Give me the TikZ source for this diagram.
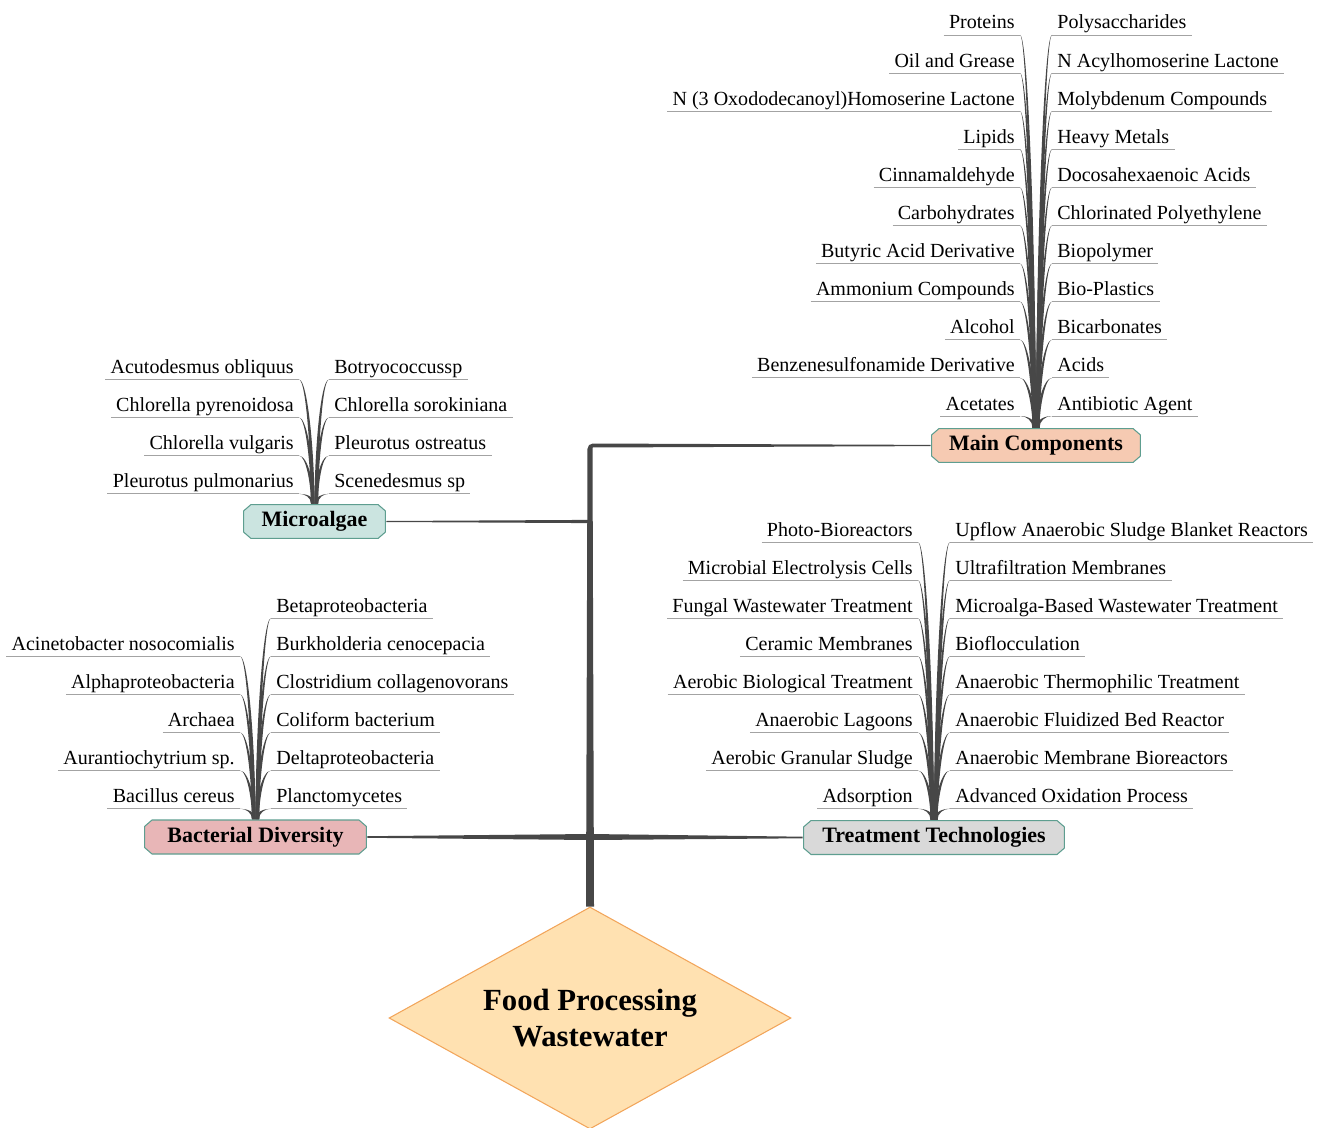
\documentclass[tikz,border=0pt]{standalone}
\usepackage{fontspec}
\setmainfont{Liberation Serif}
\usepackage{tikz}
\usetikzlibrary{shapes.geometric,calc}
\definecolor{rootfill}{HTML}{FFE1B1}
\definecolor{rootline}{HTML}{F2A55A}
\definecolor{edgeteal}{HTML}{5E9E90}
\definecolor{mcfill}{HTML}{F6CAB2}
\definecolor{mafill}{HTML}{CBE4E0}
\definecolor{bdfill}{HTML}{E8B6B7}
\definecolor{ttfill}{HTML}{D9D9D9}
\definecolor{trunkgray}{HTML}{474747}
\definecolor{linegray}{HTML}{A3A3A3}

% leaf on the left of a stem: name, x of text end, baseline, topic, text
\newcommand{\leafl}[5]{%
  \node[leaf,anchor=base east] (#1) at (#2,#3) {#5};
  \draw[uline] ($(#1.base west)+(-5,6)$) -- ($(#1.base east)+(5,6)$) coordinate (#1-s);
  \fill[twig] (#1-s) to[out=0,in=90,out max distance=4pt] ($(#4.north)+(-3.5,0)$)
    -- (#4.north) to[out=90,in=0,in max distance=5pt] (#1-s);
}
% leaf on the right of a stem
\newcommand{\leafr}[5]{%
  \node[leaf,anchor=base west] (#1) at (#2,#3) {#5};
  \draw[uline] ($(#1.base west)+(-5,6)$) coordinate (#1-s) -- ($(#1.base east)+(5,6)$);
  \fill[twig] (#1-s) to[out=180,in=90,out max distance=4pt] ($(#4.north)+(3.5,0)$)
    -- (#4.north) to[out=90,in=180,in max distance=5pt] (#1-s);
}

\begin{document}
\begin{tikzpicture}[x=0.02cm,y=-0.02cm,
        leaf/.style={inner sep=0pt,font=\fontsize{11.4}{13}\selectfont},
        uline/.style={linegray,line width=0.5pt},
        twig/.style={trunkgray},
        trunk/.style={trunkgray},
        topic/.style={rectangle,minimum height=0.7cm,inner sep=0pt,
                      font=\bfseries\fontsize{12.5}{14}\selectfont,
                      path picture={\draw[edgeteal,fill=#1,line width=0.6pt]
                        ($(path picture bounding box.north west)+(8,0.5)$)
                        -- ($(path picture bounding box.north east)+(-8,0.5)$)
                        -- ($(path picture bounding box.north east)+(-0.5,7)$)
                        -- ($(path picture bounding box.south east)+(-0.5,-7)$)
                        -- ($(path picture bounding box.south east)+(-8,-0.5)$)
                        -- ($(path picture bounding box.south west)+(8,-0.5)$)
                        -- ($(path picture bounding box.south west)+(0.5,-7)$)
                        -- ($(path picture bounding box.north west)+(0.5,7)$) -- cycle;}},
        root/.style={diamond,aspect=1.81,minimum width=8.04cm,minimum height=4.44cm,
                     inner sep=0pt,fill=rootfill,draw=rootline,line width=0.6pt,
                     align=center,font=\bfseries\fontsize{17.5}{20.5}\selectfont}]
  \useasboundingbox (0,0) rectangle (1318,1128);

  \node[root] (root) at (590,1018) {Food Processing\\Wastewater};
  \node[topic=mcfill,minimum width=4.2cm] (mc) at (1036,445.5) {Main Components};
  \node[topic=mafill,minimum width=2.86cm] (ma) at (314.5,521.5) {Microalgae};
  \node[topic=bdfill,minimum width=4.46cm] (bd) at (255.5,837) {Bacterial Diversity};
  \node[topic=ttfill,minimum width=5.24cm] (tt) at (934,837.5) {Treatment Technologies};

  % trunk and branches
  \coordinate (hub) at (root.north |- mc.west);
  \coordinate (jm) at (root.north |- ma.east);
  \coordinate (jb) at (root.north |- bd.east);
  \fill[trunk] ($(root.north)+(-4,0)$) [rounded corners=3pt] -- ($(hub)+(-2.5,-2)$) [sharp corners]
    -- ($(mc.west)+(0,-0.6)$) -- ($(mc.west)+(0,0.6)$) -- ($(hub)+(2.5,2)$)
    -- ($(root.north)+(4,0)$) -- cycle;
  \fill[trunk] ($(jm)+(0,-1.6)$) -- ($(ma.east)+(0,-0.5)$) -- ($(ma.east)+(0,0.5)$) -- ($(jm)+(0,1.6)$) -- cycle;
  \fill[trunk] ($(jb)+(0,-3)$) -- ($(bd.east)+(0,-0.8)$) -- ($(bd.east)+(0,0.8)$) -- ($(jb)+(0,3)$) -- cycle;
  \fill[trunk] ($(jb)+(0,-3)$) -- ($(tt.west)+(0,-0.8)$) -- ($(tt.west)+(0,0.8)$) -- ($(jb)+(0,3)$) -- cycle;

  % main components
  \foreach \t [count=\i from 0] in {Proteins,Oil and Grease,N (3 Oxododecanoyl)Homoserine Lactone,
      Lipids,Cinnamaldehyde,Carbohydrates,Butyric Acid Derivative,Ammonium Compounds,Alcohol,
      Benzenesulfonamide Derivative,Acetates}
    {\leafl{mcl\i}{1015}{29+38.1*\i}{mc}{\t}}
  \foreach \t [count=\i from 0] in {Polysaccharides,N Acylhomoserine Lactone,Molybdenum Compounds,
      Heavy Metals,Docosahexaenoic Acids,Chlorinated Polyethylene,Biopolymer,Bio-Plastics,
      Bicarbonates,Acids,Antibiotic Agent}
    {\leafr{mcr\i}{1057}{29+38.1*\i}{mc}{\t}}

  % microalgae
  \foreach \t [count=\i from 0] in {Acutodesmus obliquus,Chlorella pyrenoidosa,Chlorella vulgaris,
      Pleurotus pulmonarius}
    {\leafl{mal\i}{294}{373.5+38.1*\i}{ma}{\t}}
  \foreach \t [count=\i from 0] in {Botryococcussp,Chlorella sorokiniana,Pleurotus ostreatus,
      Scenedesmus sp}
    {\leafr{mar\i}{334}{373.5+38.1*\i}{ma}{\t}}

  % bacterial diversity
  \foreach \t [count=\i from 0] in {Acinetobacter nosocomialis,Alphaproteobacteria,Archaea,
      Aurantiochytrium sp.,Bacillus cereus}
    {\leafl{bdl\i}{235}{650.3+38.1*\i}{bd}{\t}}
  \foreach \t [count=\i from 0] in {Betaproteobacteria,Burkholderia cenocepacia,
      Clostridium collagenovorans,Coliform bacterium,Deltaproteobacteria,Planctomycetes}
    {\leafr{bdr\i}{276}{612.2+38.1*\i}{bd}{\t}}

  % treatment technologies
  \foreach \t [count=\i from 0] in {Photo-Bioreactors,Microbial Electrolysis Cells,
      Fungal Wastewater Treatment,Ceramic Membranes,Aerobic Biological Treatment,
      Anaerobic Lagoons,Aerobic Granular Sludge,Adsorption}
    {\leafl{ttl\i}{913}{536+38.1*\i}{tt}{\t}}
  \foreach \t [count=\i from 0] in {Upflow Anaerobic Sludge Blanket Reactors,
      Ultrafiltration Membranes,Microalga-Based Wastewater Treatment,Bioflocculation,
      Anaerobic Thermophilic Treatment,Anaerobic Fluidized Bed Reactor,
      Anaerobic Membrane Bioreactors,Advanced Oxidation Process}
    {\leafr{ttr\i}{955}{536+38.1*\i}{tt}{\t}}
\end{tikzpicture}
\end{document}
